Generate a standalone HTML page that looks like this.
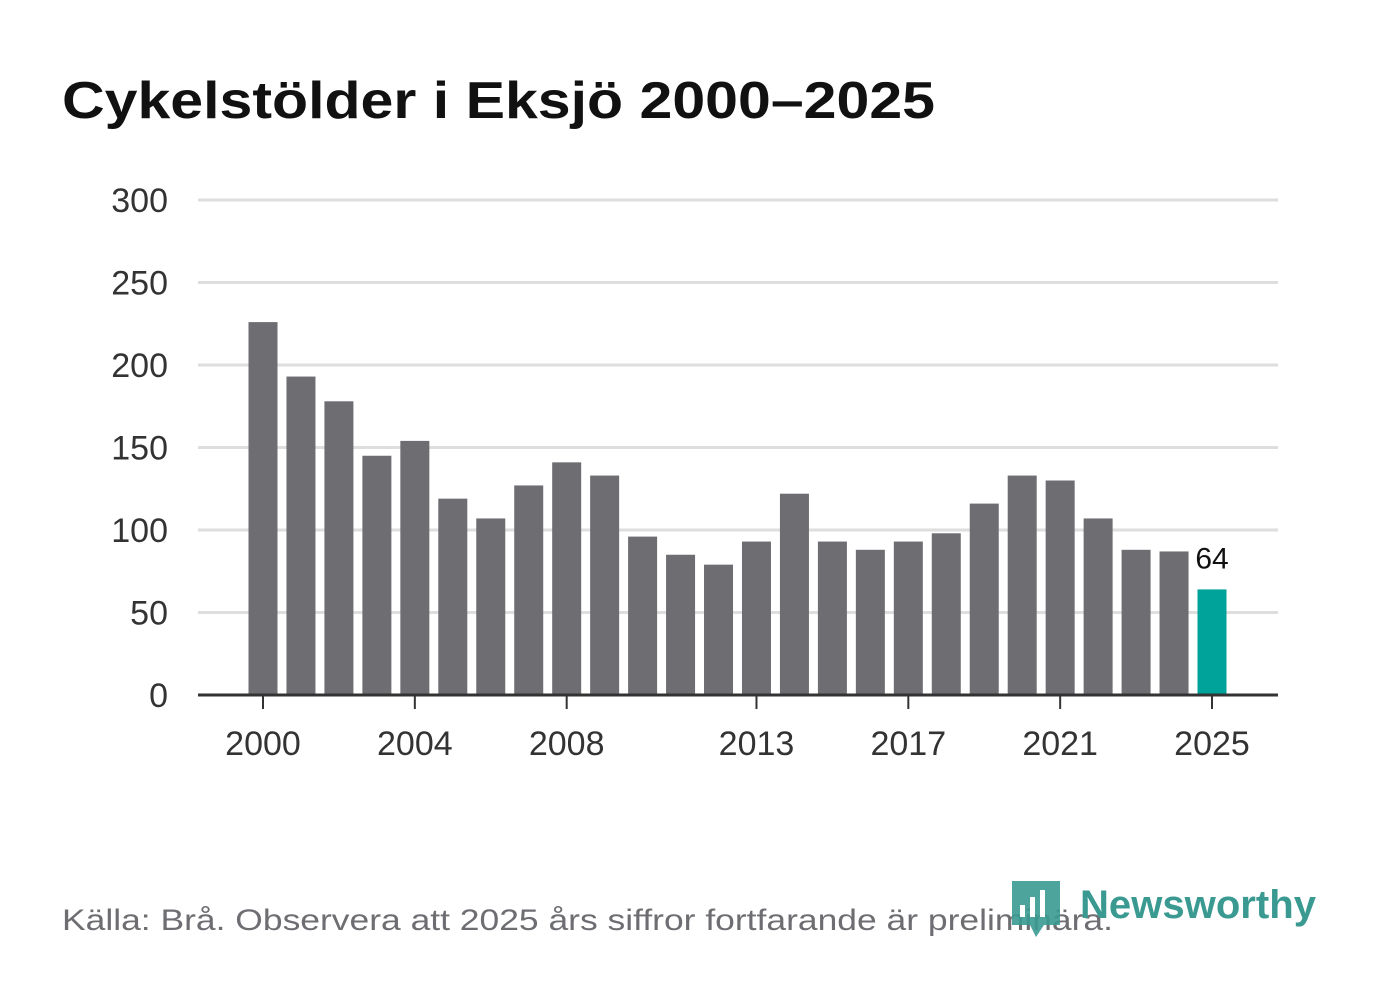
<!DOCTYPE html>
<html><head><meta charset="utf-8">
<style>
html,body{margin:0;padding:0;background:#fff;}
body{width:1382px;height:999px;overflow:hidden;font-family:"Liberation Sans","DejaVu Sans",sans-serif;}
</style></head>
<body>
<svg width="1382" height="999" viewBox="0 0 1382 999" xmlns="http://www.w3.org/2000/svg">
<text x="62" y="118" font-size="52" font-weight="bold" fill="#111" textLength="873" lengthAdjust="spacingAndGlyphs" font-family="Liberation Sans, sans-serif">Cykelstölder i Eksjö 2000–2025</text>
<g id="grid"></g>
<g id="bars"></g>
<g id="xaxis"></g>
<text x="62" y="930" font-size="30" fill="#6e6d72" textLength="1051" lengthAdjust="spacingAndGlyphs">Källa: Brå. Observera att 2025 års siffror fortfarande är preliminära.</text>
<g>
<path d="M1012 881 h48 v44 h-16 l-8 12 l-6 -12 h-18 z" fill="#3a9a92" opacity="0.9"/>
<rect x="1020" y="905" width="5" height="12" fill="#fff"/>
<rect x="1030" y="897" width="5" height="20" fill="#fff"/>
<rect x="1040" y="890" width="5" height="27" fill="#fff"/>
<text x="1080" y="918" font-size="40" font-weight="bold" fill="#3a9a92" textLength="236" lengthAdjust="spacingAndGlyphs">Newsworthy</text>
</g>
</svg>
<script>
const years=[2000,2001,2002,2003,2004,2005,2006,2007,2008,2009,2010,2011,2012,2013,2014,2015,2016,2017,2018,2019,2020,2021,2022,2023,2024,2025];
const values=[226,193,178,145,154,119,107,127,141,133,96,85,79,93,122,93,88,93,98,116,133,130,107,88,87,64];
const yTicks=[0,50,100,150,200,250,300];
const xTickYears=[2000,2004,2008,2013,2017,2021,2025];
const NS='http://www.w3.org/2000/svg';
const y0=695,yTop=200,vmax=300;
function yScale(v){return y0-(v/vmax)*(y0-yTop);}
function xScale(yr){return 263+(yr-2000)*(1212-263)/25;}
function mk(tag,attrs,parent){const e=document.createElementNS(NS,tag);for(const k in attrs)e.setAttribute(k,attrs[k]);parent.appendChild(e);return e;}
const grid=document.getElementById('grid');
yTicks.forEach(t=>{
  const y=yScale(t);
  if(t>0){const l=mk('line',{x1:198,x2:1278,y1:y,y2:y,stroke:'#dedede','stroke-width':3},grid);
  
  }
  const tx=mk('text',{x:168,y:y+12,'font-size':34,'text-anchor':'end',fill:'#333'},grid);
  tx.textContent=t;
  
  
});
const bars=document.getElementById('bars');
const bw=29;
years.forEach((yr,i)=>{
  const x=xScale(yr),y=yScale(values[i]);
  const r=mk('rect',{x:x-bw/2,y:y,width:bw,height:y0-y,fill:yr===2025?'#00a39a':'#6e6d72'},bars);
  
  
  if(yr===2025){const t=mk('text',{x:x,y:y-21,'font-size':30,'text-anchor':'middle',fill:'#111'},bars);t.textContent=values[i];
  
  }
});
const xa=document.getElementById('xaxis');
const base=mk('line',{x1:198,x2:1278,y1:y0,y2:y0,stroke:'#333','stroke-width':3},xa);


xTickYears.forEach(yr=>{
  const x=xScale(yr);
  const tk=mk('line',{x1:x,x2:x,y1:y0,y2:y0+14,stroke:'#333','stroke-width':2},xa);
  
  
  const t=mk('text',{x:x,y:755,'font-size':34,'text-anchor':'middle',fill:'#333'},xa);
  t.textContent=yr;
  
  
});
</script>
</body></html>
